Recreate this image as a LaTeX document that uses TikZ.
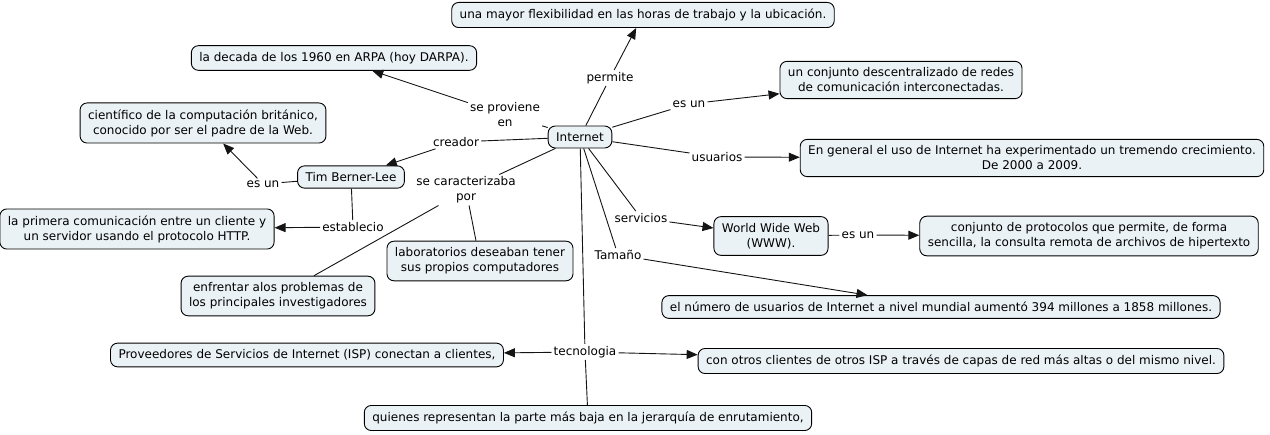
\documentclass[tikz,border=0pt]{standalone}
\usepackage{fontspec}
\setmainfont{DejaVu Sans}
\usepackage{xcolor}
\usepackage{tikz}
\usetikzlibrary{arrows.meta, positioning}
\definecolor{conceptfill}{RGB}{235, 242, 245}
\definecolor{linegray}{RGB}{20, 20, 20}

\begin{document}
\begin{tikzpicture}[
    x=1pt, y=-1pt,
    concept/.style={rectangle, rounded corners=7pt, draw=black, line width=0.9pt,
                    fill=conceptfill, align=center, inner xsep=8pt, inner ysep=6.5pt,
                    font=\fontsize{12}{15}\selectfont},
    link/.style={align=center, inner sep=2pt, fill=white,
                 font=\fontsize{12}{15}\selectfont},
    arr/.style={-{Triangle[length=11pt, width=9pt]}, line width=0.9pt, color=linegray},
    ln/.style={-, line width=0.9pt, color=linegray}
]
\useasboundingbox (0,0) rectangle (1270,435);

% concepts
\node[concept] (internet) at (580,137) {Internet};
\node[concept] (flex) at (643,15) {una mayor flexibilidad en las horas de trabajo y la ubicación.};
\node[concept] (arpa) at (334,58) {la decada de los 1960 en ARPA (hoy DARPA).};
\node[concept] (cientifico) at (203,123) {científico de la computación británico,\\conocido por ser el padre de la Web.};
\node[concept] (tim) at (351,177) {Tim Berner-Lee};
\node[concept] (primera) at (137,229) {la primera comunicación entre un cliente y\\un servidor usando el protocolo HTTP.};
\node[concept] (labs) at (480,261) {laboratorios deseaban tener\\sus propios computadores};
\node[concept] (enfrentar) at (278,296) {enfrentar alos problemas de\\los principales investigadores};
\node[concept] (redes) at (901,80) {un conjunto descentralizado de redes\\de comunicación interconectadas.};
\node[concept] (general) at (1032,158) {En general el uso de Internet ha experimentado un tremendo crecimiento.\\De 2000 a 2009.};
\node[concept] (www) at (771,236) {World Wide Web\\(WWW).};
\node[concept] (protocolos) at (1089,236) {conjunto de protocolos que permite, de forma\\sencilla, la consulta remota de archivos de hipertexto};
\node[concept] (numero) at (941,307) {el número de usuarios de Internet a nivel mundial aumentó 394 millones a 1858 millones.};
\node[concept] (isp) at (307,355) {Proveedores de Servicios de Internet (ISP) conectan a clientes,};
\node[concept] (otros) at (961,361) {con otros clientes de otros ISP a través de capas de red más altas o del mismo nivel.};
\node[concept] (quienes) at (588,418) {quienes representan la parte más baja en la jerarquía de enrutamiento,};

% linking phrases
\node[link] (permite) at (610,78) {permite};
\node[link] (proviene) at (505,115) {se proviene\\en};
\node[link] (creador) at (456,142) {creador};
\node[link] (esun1) at (689,104) {es un};
\node[link] (usuarios) at (717,157) {usuarios};
\node[link] (caracter) at (466,190) {se caracterizaba\\por};
\node[link] (esun2) at (263,184) {es un};
\node[link] (establecio) at (353,227) {establecio};
\node[link] (servicios) at (641,218) {servicios};
\node[link] (tamano) at (618,255) {Tamaño};
\node[link] (esun3) at (858,235) {es un};
\node[link] (tecno) at (585,352) {tecnologia};

% connectors
\draw[ln] (internet) -- (permite);
\draw[arr] (permite) -- (flex);
\draw[ln] (internet) -- (proviene);
\draw[arr] (proviene) -- (arpa);
\draw[ln] (internet) -- (creador);
\draw[arr] (creador) -- (tim);
\draw[ln] (internet) -- (esun1);
\draw[arr] (esun1) -- (redes);
\draw[ln] (internet) -- (usuarios);
\draw[arr] (usuarios) -- (general);
\draw[ln] (internet) -- (caracter);
\draw[ln] (caracter) -- (labs);
\draw[ln] (caracter) -- (enfrentar);
\draw[ln] (tim) -- (esun2);
\draw[arr] (esun2) -- (cientifico);
\draw[ln] (tim) -- (establecio);
\draw[arr] (establecio) -- (primera);
\draw[ln] (internet) -- (servicios);
\draw[arr] (servicios) -- (www);
\draw[ln] (www) -- (esun3);
\draw[arr] (esun3) -- (protocolos);
\draw[ln] (internet) -- (tamano);
\draw[arr] (tamano) -- (numero);
\draw[ln] (internet) -- (tecno);
\draw[arr] (tecno) -- (isp);
\draw[arr] (tecno) -- (otros);
\draw[ln] (tecno) -- (quienes);

\end{tikzpicture}
\end{document}
